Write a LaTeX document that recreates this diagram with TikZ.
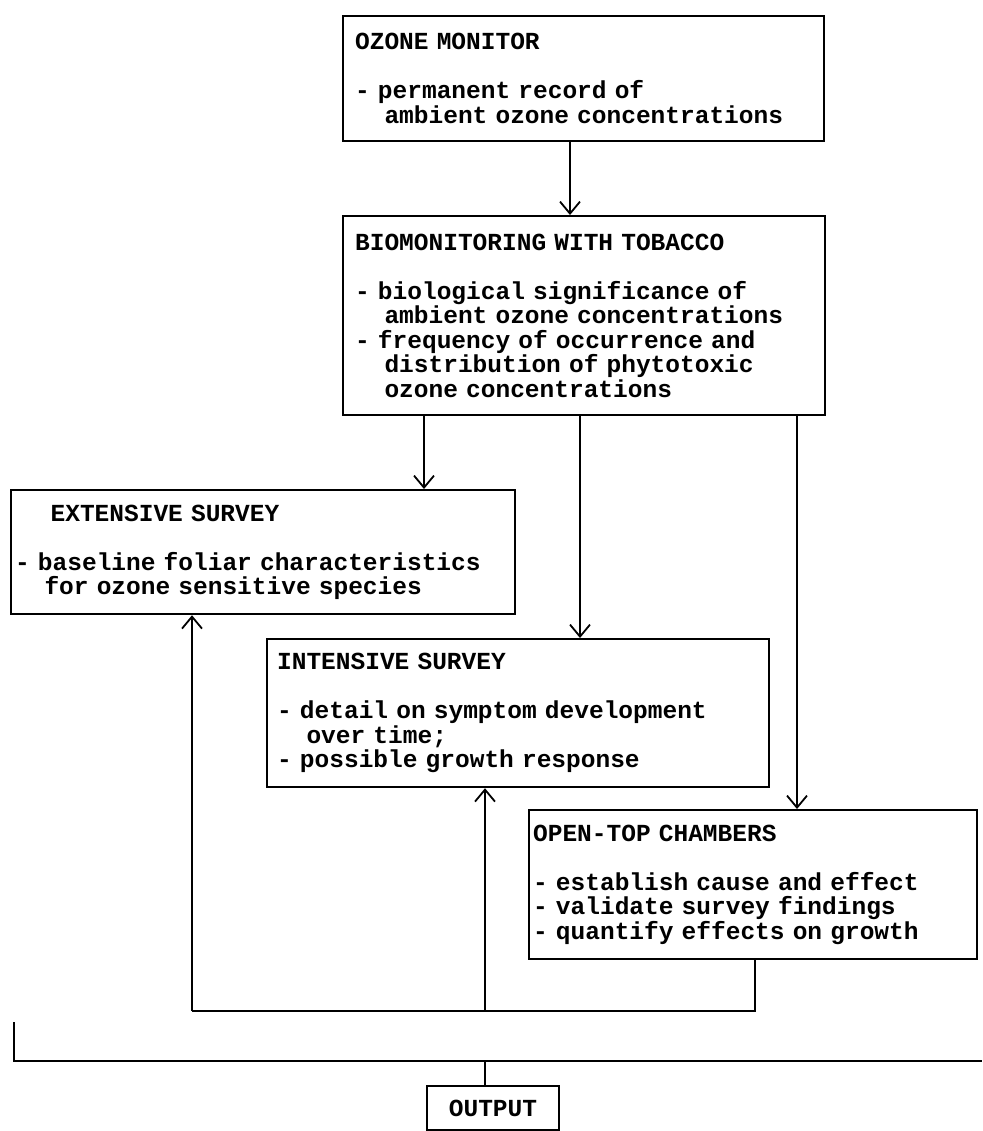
\documentclass[tikz,border=0pt]{standalone}
\usepackage{fontspec}
\newfontfamily\tw{Liberation Mono}
\usetikzlibrary{arrows.meta}
\newcommand{\ind}{\hspace*{1.2em}}
\newcommand{\twfont}{\tw\bfseries\fontsize{12.25pt}{12.25pt}\selectfont\fontdimen2\font=7.35pt\fontdimen3\font=0pt\fontdimen4\font=0pt\relax}
\begin{document}
\begin{tikzpicture}[x=0.5pt,y=-0.5pt,
  font=\twfont,
  boxnode/.style={draw,line width=1.1pt,anchor=north west,align=left,inner ysep=0pt},
  conn/.style={line width=0.9pt},
  arr/.style={conn,-{Straight Barb[length=6pt,width=10pt,line width=0.9pt]}}]
\useasboundingbox (0,0) rectangle (982,1131);
% boxes
\node[boxnode,inner xsep=6pt,text width=228.5pt,minimum width=240.5pt,minimum height=62.5pt] (ozone) at (342,15)
 {OZONE MONITOR\\[12.25pt]- permanent record of\\\ind ambient ozone concentrations};
\node[boxnode,inner xsep=6pt,text width=229pt,minimum width=241pt,minimum height=99.5pt] (bio) at (342,215)
 {BIOMONITORING WITH TOBACCO\\[12.25pt]- biological significance of\\\ind ambient ozone concentrations\\- frequency of occurrence and\\\ind distribution of phytotoxic\\\ind ozone concentrations};
\node[boxnode,inner xsep=2pt,text width=248pt,minimum width=252pt,minimum height=62pt] (ext) at (10,489)
 {\hspace*{1.45em}EXTENSIVE SURVEY\\[12.25pt]- baseline foliar characteristics\\\ind for ozone sensitive species};
\node[boxnode,inner xsep=5pt,text width=241pt,minimum width=251pt,minimum height=74pt] (int) at (266,638)
 {INTENSIVE SURVEY\\[12.25pt]- detail on symptom development\\\ind over time;\\- possible growth response};
\node[boxnode,inner xsep=2pt,text width=220pt,minimum width=224pt,minimum height=74.5pt] (otc) at (528,809)
 {OPEN-TOP CHAMBERS\\[12.25pt]- establish cause and effect\\- validate survey findings\\- quantify effects on growth};
\node[draw,line width=1.1pt,anchor=north,minimum width=66pt,minimum height=22pt,inner sep=0pt] (out) at (493,1085) {OUTPUT};
% guide coordinates
\coordinate (xa) at (570,0);
\coordinate (xb) at (424,0);
\coordinate (xc) at (580,0);
\coordinate (xd) at (797,0);
\coordinate (xl) at (192,0);
\coordinate (xm) at (485,0);
\coordinate (xr) at (755,0);
\coordinate (fb) at (0,1011);
\coordinate (barl) at (14,1061);
\coordinate (barr) at (982,1061);
\coordinate (tick) at (14,1022);
% connectors
\draw[arr] (xa |- ozone.south) -- (xa |- bio.north);
\draw[arr] (xb |- bio.south) -- (xb |- ext.north);
\draw[arr] (xc |- bio.south) -- (xc |- int.north);
\draw[arr] (xd |- bio.south) -- (xd |- otc.north);
\draw[conn] (xr |- otc.south) -- (xr |- fb) -- (xl |- fb);
\draw[arr] (xl |- fb) -- (xl |- ext.south);
\draw[arr] (xm |- fb) -- (xm |- int.south);
\draw[conn] (tick) -- (barl) -- (barr);
\draw[conn] (xm |- barl) -- (xm |- out.north);
\end{tikzpicture}
\end{document}
